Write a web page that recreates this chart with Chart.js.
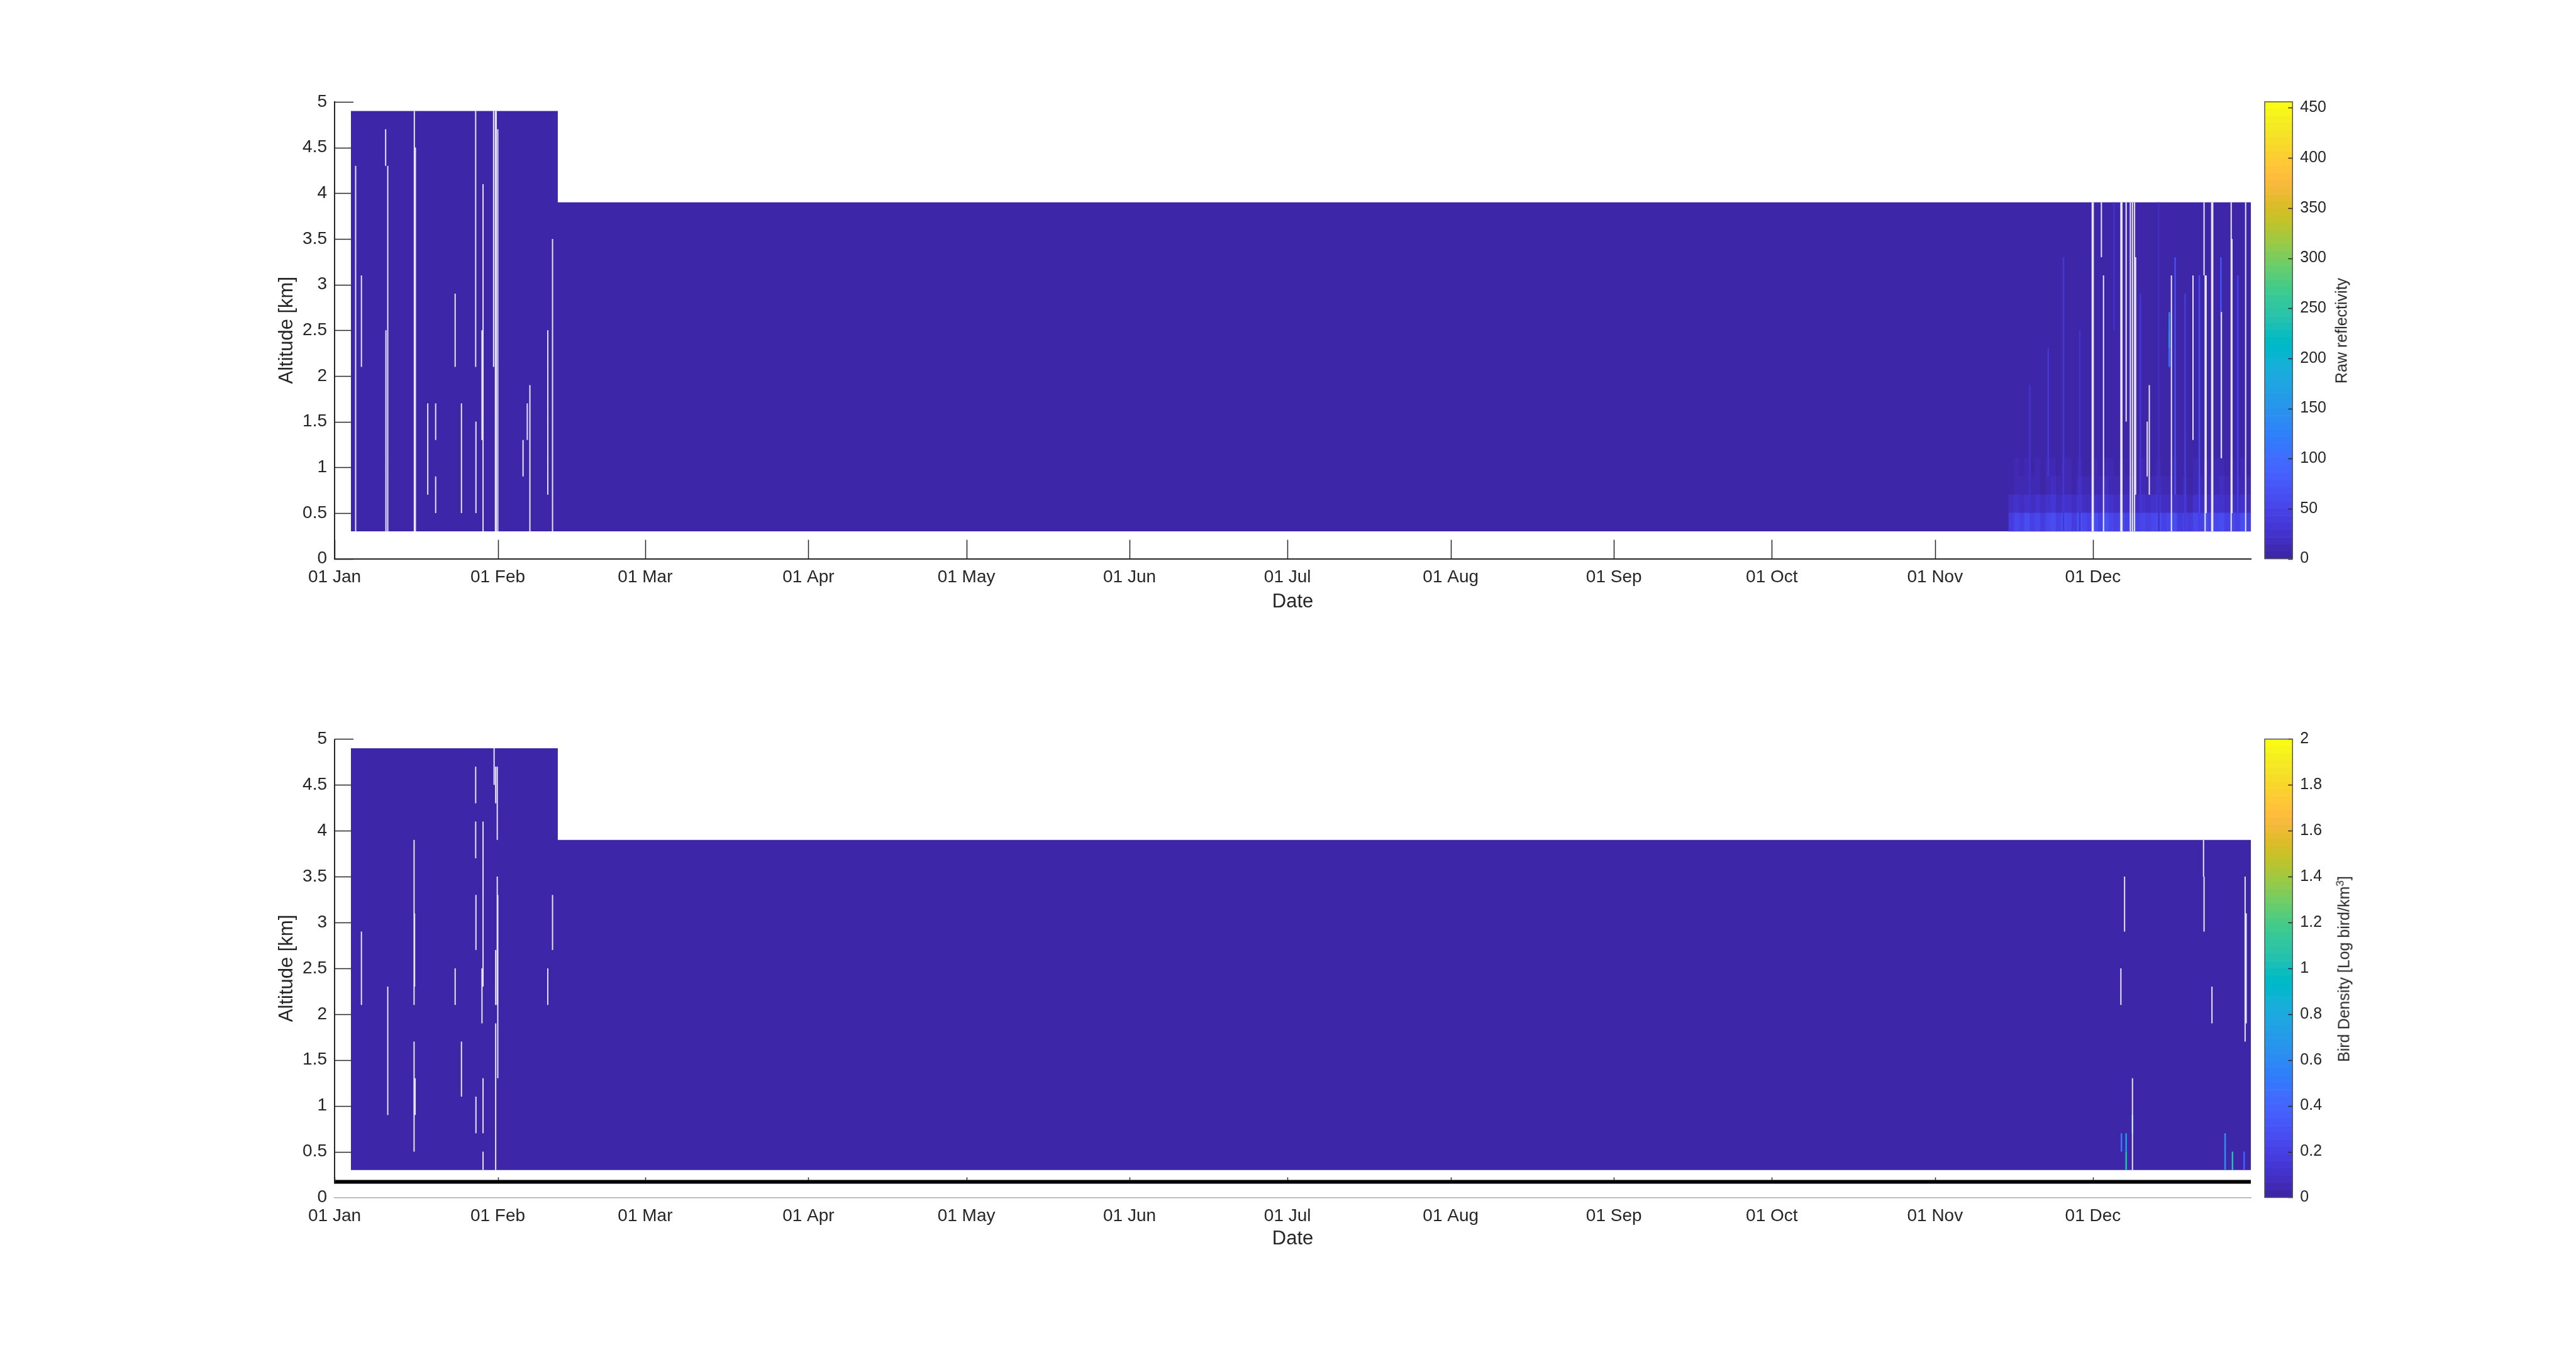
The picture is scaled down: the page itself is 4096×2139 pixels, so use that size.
<!DOCTYPE html>
<html><head><meta charset="utf-8">
<script src="https://cdn.jsdelivr.net/npm/chart.js@4.4.1/dist/chart.umd.min.js"></script>
<style>
html,body{margin:0;padding:0;background:#fff;width:4096px;height:2139px;overflow:hidden;}
#wrap{position:absolute;left:0;top:2px;width:4096px;height:2137px;}
.box{position:absolute;}
.box canvas{display:block;}
.cblabel{position:absolute;font-family:"Liberation Sans",Arial,Helvetica,sans-serif;font-size:25px;color:#262626;white-space:nowrap;transform:translate(-50%,-50%) rotate(-90deg);}
.cblabel sup{font-size:17px;line-height:0;}
</style></head><body>
<div id="wrap">
<div class="box" style="left:0;top:0;width:3590px;height:1020px"><canvas id="c1" width="3590" height="1020"></canvas></div>
<div class="box" style="left:0;top:1020px;width:3590px;height:1000px"><canvas id="c2" width="3590" height="1000"></canvas></div>
<div class="box" style="left:3590px;top:0;width:420px;height:1020px"><canvas id="c3" width="420" height="1020"></canvas></div>
<div class="box" style="left:3590px;top:1020px;width:420px;height:1000px"><canvas id="c4" width="420" height="1000"></canvas></div>
<div class="cblabel" style="left:3723px;top:524px">Raw reflectivity</div>
<div class="cblabel" style="left:3727px;top:1539px">Bird Density [Log bird/km<sup>3</sup>]</div>
</div>
<script>
// ---------------- DATA ----------------
const monthDays   = [0, 31, 59, 90, 120, 151, 181, 212, 243, 273, 304, 334];
const monthLabels = ['01 Jan','01 Feb','01 Mar','01 Apr','01 May','01 Jun','01 Jul','01 Aug','01 Sep','01 Oct','01 Nov','01 Dec'];
const dayMax = 364;
const altMax = 5;

// radar data coverage (day of year, top altitude km); lowest bin edge
const coverageDays = [3.1, 42.4, 42.4, 364];
const coverageTop  = [4.9, 4.9, 3.9, 3.9];
const coverageBase = 0.3;
const binHeight = 0.2;

// colour ranges / colorbar ticks
const reflMax = 456;
const reflTicks = [0, 50, 100, 150, 200, 250, 300, 350, 400, 450];
const densMax = 2;
const densTicks = [0, 0.2, 0.4, 0.6, 0.8, 1, 1.2, 1.4, 1.6, 1.8, 2];

// raw reflectivity, daily cells of the lowest altitude bins (mid Nov - end Dec)
const cellDays = [318,319,320,321,322,323,324,325,326,327,328,329,330,331,332,333,334,335,336,337,338,339,340,341,342,343,344,345,346,347,348,349,350,351,352,353,354,355,356,357,358,359,360,361,362,363];
const cellBinLow = [0.3, 0.5, 0.7, 0.9];
const refl03 = [38,52,45,60,48,55,42,50,58,46,62,54,40,66,50,48,57,44,70,52,46,58,49,61,43,55,47,52,64,45,50,57,41,48,36,53,46,59,44,51,62,47,55,49,58,45];
const refl05 = [18,22,15,28,20,25,17,22,30,19,26,24,16,31,21,20,27,18,33,24,19,25,21,28,17,23,20,22,29,18,21,26,16,20,14,24,19,27,18,22,28,20,24,21,26,19];
const refl07 = [6,10,8,14,9,12,7,11,16,8,13,11,6,17,10,9,14,8,18,12,9,13,10,15,7,11,9,10,15,8,10,13,7,9,6,12,9,14,8,11,15,9,12,10,13,9];
const refl09 = [3,8,5,10,6,9,4,8,12,5,10,8,3,12,7,6,10,5,13,9,6,10,7,11,4,8,6,7,11,5,7,10,4,6,3,9,6,10,5,8,11,6,9,7,10,6];

// raw reflectivity, single-scan streaks (day, bottom km, top km, value)
const topStreakDay = [322.0, 325.5, 328.4, 331.5, 338.0, 343.0, 346.5, 348.5, 348.5, 348.5, 349.6, 351.5, 354.2, 358.3, 361.5];
const topStreakLo  = [0.5, 0.9, 0.3, 0.3, 2.5, 0.5, 0.3, 2.1, 2.3, 2.5, 0.7, 0.3, 0.5, 1.1, 0.3];
const topStreakHi  = [1.9, 2.3, 3.3, 2.5, 3.9, 2.9, 3.9, 2.3, 2.5, 2.7, 3.3, 2.9, 3.1, 3.3, 3.1];
const topStreakVal = [25, 30, 30, 28, 25, 35, 20, 110, 170, 140, 60, 40, 55, 70, 45];

// missing scans, raw reflectivity panel (day, bottom km, top km)
const topGapDay = [4.0, 5.1, 9.7, 9.75, 10.1, 15.15, 15.35, 17.7, 19.2, 19.2, 22.9, 24.1, 26.8, 26.85, 28.2, 28.0, 30.2, 30.55, 30.7, 31.0, 35.8, 36.6, 37.1, 40.5, 41.4,
                   333.85, 334.05, 335.6, 336.0, 339.3, 339.5, 340.3, 341.1, 341.5, 341.9, 342.1, 344.3, 344.7, 348.9, 353.0, 355.1, 355.3, 355.5, 356.55, 356.75, 358.4, 360.25, 360.4, 363.0];
const topGapLo  = [0.3, 2.1, 4.3, 0.3, 0.3, 0.3, 0.3, 0.7, 1.3, 0.5, 2.1, 0.5, 2.1, 0.5, 0.3, 1.3, 2.1, 0.3, 0.3, 0.3, 0.9, 1.3, 0.3, 0.7, 0.3,
                   0.3, 0.3, 3.3, 0.3, 0.3, 0.3, 1.5, 0.3, 0.3, 0.3, 0.7, 0.9, 0.7, 0.3, 1.3, 3.1, 0.3, 0.5, 0.3, 0.3, 1.1, 0.3, 0.5, 0.3];
const topGapHi  = [4.3, 3.1, 4.7, 2.5, 4.3, 4.9, 4.5, 1.7, 1.7, 0.9, 2.9, 1.7, 4.9, 1.5, 4.1, 2.5, 4.9, 4.9, 4.9, 4.7, 1.3, 1.7, 1.9, 2.5, 3.5,
                   3.9, 3.9, 3.9, 3.1, 3.9, 3.9, 3.9, 3.9, 3.9, 3.9, 3.3, 1.5, 1.9, 3.1, 3.1, 3.9, 3.1, 3.1, 3.9, 3.9, 2.7, 3.9, 3.5, 3.9];

// missing scans, bird density panel
const botGapDay = [5.1, 10.1, 15.1, 15.2, 15.1, 15.3, 22.9, 24.1, 26.8, 26.8, 26.85, 26.85, 28.2, 28.0, 28.2, 28.2, 30.3, 30.6, 30.6, 30.6, 30.9, 30.9, 31.0, 40.5, 41.4,
                   339.3, 340.0, 341.5, 355.0, 355.1, 356.6, 362.9, 363.1];
const botGapLo  = [2.1, 0.9, 2.1, 2.3, 0.5, 0.9, 2.1, 1.1, 4.3, 3.7, 2.7, 0.7, 2.3, 1.9, 0.7, 0.3, 4.5, 4.3, 2.1, 0.3, 3.9, 2.1, 1.3, 2.1, 2.7,
                   2.1, 2.9, 0.3, 3.5, 2.9, 1.9, 1.7, 1.9];
const botGapHi  = [2.9, 2.3, 3.9, 3.1, 1.7, 1.3, 2.5, 1.7, 4.7, 4.1, 3.3, 1.1, 4.1, 2.5, 1.3, 0.5, 4.9, 4.7, 2.7, 1.9, 4.7, 3.5, 3.3, 2.5, 3.3,
                   2.5, 3.5, 1.3, 3.9, 3.5, 2.3, 3.5, 3.1];

// bird density streaks (day, bottom km, top km, log density)
const botStreakDay = [339.4, 340.3, 340.3, 341.5, 359.1, 360.5, 362.7];
const botStreakLo  = [0.5, 0.3, 0.5, 0.7, 0.3, 0.3, 0.3];
const botStreakHi  = [0.7, 0.5, 0.7, 0.9, 0.7, 0.5, 0.5];
const botStreakVal = [0.5, 1.05, 0.7, 0.55, 0.65, 1.05, 0.35];

// black reference line in the lower panel
const flagDays = [0, 364];
const flagAlt  = [0.17, 0.17];

// ---------------- STYLE ----------------
const PARULA = [
[0.2422,0.1504,0.6603],[0.2504,0.1650,0.7076],[0.2578,0.1818,0.7511],[0.2647,0.1978,0.7952],[0.2706,0.2147,0.8364],[0.2751,0.2342,0.8710],[0.2783,0.2559,0.8991],[0.2803,0.2782,0.9221],
[0.2813,0.3006,0.9414],[0.2810,0.3228,0.9579],[0.2795,0.3447,0.9717],[0.2760,0.3667,0.9829],[0.2699,0.3892,0.9906],[0.2602,0.4123,0.9952],[0.2440,0.4358,0.9988],[0.2206,0.4603,0.9973],
[0.1963,0.4847,0.9892],[0.1834,0.5074,0.9798],[0.1786,0.5289,0.9682],[0.1764,0.5499,0.9520],[0.1687,0.5703,0.9359],[0.1540,0.5902,0.9218],[0.1460,0.6091,0.9079],[0.1380,0.6276,0.8973],
[0.1248,0.6459,0.8883],[0.1113,0.6635,0.8763],[0.0952,0.6798,0.8598],[0.0689,0.6948,0.8394],[0.0297,0.7082,0.8163],[0.0036,0.7203,0.7917],[0.0067,0.7312,0.7660],[0.0433,0.7411,0.7394],
[0.0964,0.7500,0.7120],[0.1408,0.7584,0.6842],[0.1717,0.7670,0.6554],[0.1938,0.7758,0.6251],[0.2161,0.7843,0.5923],[0.2470,0.7918,0.5567],[0.2906,0.7973,0.5188],[0.3406,0.8008,0.4789],
[0.3909,0.8029,0.4354],[0.4456,0.8024,0.3909],[0.5044,0.7993,0.3480],[0.5616,0.7942,0.3045],[0.6174,0.7876,0.2612],[0.6720,0.7793,0.2227],[0.7242,0.7698,0.1910],[0.7738,0.7598,0.1646],
[0.8203,0.7498,0.1535],[0.8634,0.7406,0.1596],[0.9035,0.7330,0.1774],[0.9393,0.7288,0.2100],[0.9728,0.7298,0.2394],[0.9956,0.7434,0.2371],[0.9970,0.7659,0.2199],[0.9952,0.7893,0.2028],
[0.9892,0.8136,0.1885],[0.9786,0.8386,0.1766],[0.9676,0.8639,0.1643],[0.9610,0.8890,0.1537],[0.9597,0.9135,0.1423],[0.9628,0.9373,0.1265],[0.9691,0.9606,0.1064],[0.9769,0.9839,0.0805]];
const rgbOf = c => `rgb(${Math.round(c[0]*255)},${Math.round(c[1]*255)},${Math.round(c[2]*255)})`;
function cmap(v, vmax) {
  let i = Math.floor(v / vmax * PARULA.length);
  i = Math.max(0, Math.min(PARULA.length - 1, i));
  return rgbOf(PARULA[i]);
}
const AX = '#262626';
const FONT = '"Liberation Sans", Arial, Helvetica, sans-serif';
Chart.defaults.font.family = FONT;
Chart.defaults.color = AX;
Chart.defaults.animation = false;
const fmt = v => String(+(+v).toFixed(2));

// inward tick marks (MATLAB style)
const inwardTicks = {
  id: 'inwardTicks',
  beforeDatasetsDraw(chart, args, o) {
    const {ctx, chartArea: a, scales: {x, y}} = chart;
    ctx.save();
    ctx.strokeStyle = AX; ctx.lineWidth = 1.5;
    ctx.beginPath();
    y.ticks.forEach(t => {
      if (o.flag !== undefined && t.value < o.flag) return;
      const py = Math.round(y.getPixelForValue(t.value)) + 0.5;
      ctx.moveTo(a.left, py); ctx.lineTo(a.left + o.len, py);
    });
    x.ticks.forEach(t => {
      const px = Math.round(x.getPixelForValue(t.value)) + 0.5;
      if (o.flag === undefined) { ctx.moveTo(px, a.bottom); ctx.lineTo(px, a.bottom - o.len); }
      else { const fy = y.getPixelForValue(o.flag) - 3; ctx.moveTo(px, fy); ctx.lineTo(px, fy - 4); }
    });
    ctx.stroke();
    ctx.restore();
  },
  afterDraw(chart, args, o) {
    if (o.flag === undefined) return;
    const {ctx, chartArea: a, scales: {y}} = chart;
    ctx.save();
    ctx.strokeStyle = AX; ctx.lineWidth = 2;
    ctx.beginPath();
    ctx.moveTo(a.left, a.top); ctx.lineTo(a.left, y.getPixelForValue(o.flag) + 3);
    ctx.stroke();
    ctx.restore();
  }
};

function gapData(days, lo, hi) {
  const out = [];
  days.forEach((d, i) => { out.push({x: d, y: lo[i]}, {x: d, y: hi[i]}, {x: d, y: null}); });
  return out;
}

function heatChart(id, o) {
  const datasets = [];
  datasets.push({
    type: 'line', order: 10,
    data: coverageDays.map((d, i) => ({x: d, y: coverageTop[i]})),
    fill: {value: coverageBase}, backgroundColor: cmap(0, o.vmax),
    borderColor: 'rgba(0,0,0,0)', borderWidth: 0, pointRadius: 0, tension: 0
  });
  (o.cells || []).forEach(c => {
    datasets.push({
      type: 'bar', order: 5, grouped: false, barPercentage: 1, categoryPercentage: 1, borderWidth: 0,
      data: cellDays.map(d => ({x: d + 0.5, y: [c.lo, c.lo + binHeight]})),
      backgroundColor: c.vals.map(v => cmap(v, o.vmax))
    });
  });
  o.streakDay.forEach((d, i) => {
    datasets.push({
      type: 'line', order: 3, pointRadius: 0, borderWidth: 2.5, borderCapStyle: 'butt',
      borderColor: cmap(o.streakVal[i], o.vmax),
      data: [{x: d, y: o.streakLo[i]}, {x: d, y: o.streakHi[i]}]
    });
  });
  datasets.push({
    type: 'line', order: 1, pointRadius: 0, borderWidth: 2, borderCapStyle: 'butt', spanGaps: false,
    borderColor: 'rgba(250,248,255,0.9)',
    data: gapData(o.gapDay, o.gapLo, o.gapHi)
  });
  if (o.flag !== undefined) {
    datasets.push({
      type: 'line', order: 0, pointRadius: 0, borderWidth: 6, borderColor: '#000', borderCapStyle: 'butt',
      data: flagDays.map((d, i) => ({x: d, y: flagAlt[i]}))
    });
  }
  return new Chart(document.getElementById(id), {
    type: 'line',
    data: {datasets},
    options: {
      responsive: false, devicePixelRatio: 1, events: [],
      layout: {padding: {top: o.padTop, left: 0, right: 10.9, bottom: 0}},
      plugins: {legend: {display: false}, tooltip: {enabled: false}, inwardTicks: {len: 30, flag: o.flag}},
      scales: {
        x: {
          type: 'linear', min: 0, max: dayMax, offset: false,
          afterFit: s => { s.height = o.xH; },
          afterBuildTicks: s => { s.ticks = monthDays.map(v => ({value: v})); },
          grid: {drawOnChartArea: false, drawTicks: false, offset: false},
          border: {display: true, color: o.flag !== undefined ? '#aaaaaa' : AX, width: o.flag !== undefined ? 1.5 : 2},
          ticks: {autoSkip: false, maxRotation: 0, padding: 13, font: {size: 28}, color: AX,
                  callback: (v, i) => monthLabels[i]},
          title: {display: true, text: 'Date', font: {size: 31}, color: AX, padding: {top: 0, bottom: o.titleBottom}}
        },
        y: {
          type: 'linear', min: 0, max: altMax,
          afterFit: s => { s.width = 532; },
          grid: {drawOnChartArea: false, drawTicks: false},
          border: {display: o.flag === undefined, color: AX, width: 2},
          ticks: {stepSize: 0.5, padding: 12, font: {size: 28}, color: AX, callback: v => fmt(v)},
          title: {display: true, text: 'Altitude [km]', font: {size: 31}, color: AX, padding: {top: 456 - 18.6, bottom: 0}}
        }
      }
    },
    plugins: [inwardTicks]
  });
}

heatChart('c1', {
  vmax: reflMax, padTop: 159.9, xH: 1020 - 886.6, titleBottom: 1020 - 955 - 18.6,
  cells: [{lo: cellBinLow[0], vals: refl03}, {lo: cellBinLow[1], vals: refl05}, {lo: cellBinLow[2], vals: refl07}, {lo: cellBinLow[3], vals: refl09}],
  streakDay: topStreakDay, streakLo: topStreakLo, streakHi: topStreakHi, streakVal: topStreakVal,
  gapDay: topGapDay, gapLo: topGapLo, gapHi: topGapHi
});
heatChart('c2', {
  vmax: densMax, padTop: 153.4, xH: 1000 - 882.4, titleBottom: 1000 - 948 - 18.6,
  streakDay: botStreakDay, streakLo: botStreakLo, streakHi: botStreakHi, streakVal: botStreakVal,
  gapDay: botGapDay, gapLo: botGapLo, gapHi: botGapHi, flag: flagAlt[0]
});

// ---------------- COLORBARS ----------------
const cbDeco = {
  id: 'cbDeco',
  afterDraw(chart) {
    const {ctx, chartArea: a, scales: {y}} = chart;
    ctx.save();
    ctx.strokeStyle = AX; ctx.lineWidth = 1.5;
    ctx.beginPath();
    y.ticks.forEach(t => {
      const py = Math.round(y.getPixelForValue(t.value)) + 0.5;
      ctx.moveTo(a.right, py); ctx.lineTo(a.right - 7, py);
    });
    ctx.stroke();
    ctx.strokeStyle = '#555'; ctx.lineWidth = 1.5;
    ctx.strokeRect(a.left, a.top, a.right - a.left, a.bottom - a.top);
    ctx.restore();
  }
};
function colorbar(id, vmax, ticks, padTop, padBottom) {
  const step = vmax / PARULA.length;
  return new Chart(document.getElementById(id), {
    type: 'bar',
    data: {
      labels: ['cb'],
      datasets: PARULA.map(c => ({data: [step], backgroundColor: rgbOf(c), borderWidth: 0,
                                  barPercentage: 1, categoryPercentage: 1}))
    },
    options: {
      responsive: false, devicePixelRatio: 1, events: [],
      layout: {padding: {top: padTop, bottom: padBottom, left: 11, right: 0}},
      plugins: {legend: {display: false}, tooltip: {enabled: false}},
      scales: {
        x: {display: false, stacked: true},
        y: {
          position: 'right', stacked: true, min: 0, max: vmax,
          afterFit: s => { s.width = 420 - 55.3; },
          afterBuildTicks: s => { s.ticks = ticks.map(v => ({value: v})); },
          grid: {display: false, drawTicks: false},
          border: {display: false},
          ticks: {padding: 12, font: {size: 25}, color: AX, callback: v => fmt(v)}
        }
      }
    },
    plugins: [cbDeco]
  });
}
colorbar('c3', reflMax, reflTicks, 159.9, 1020 - 886.6);
colorbar('c4', densMax, densTicks, 153.4, 1000 - 882.4);
</script>
</body></html>
